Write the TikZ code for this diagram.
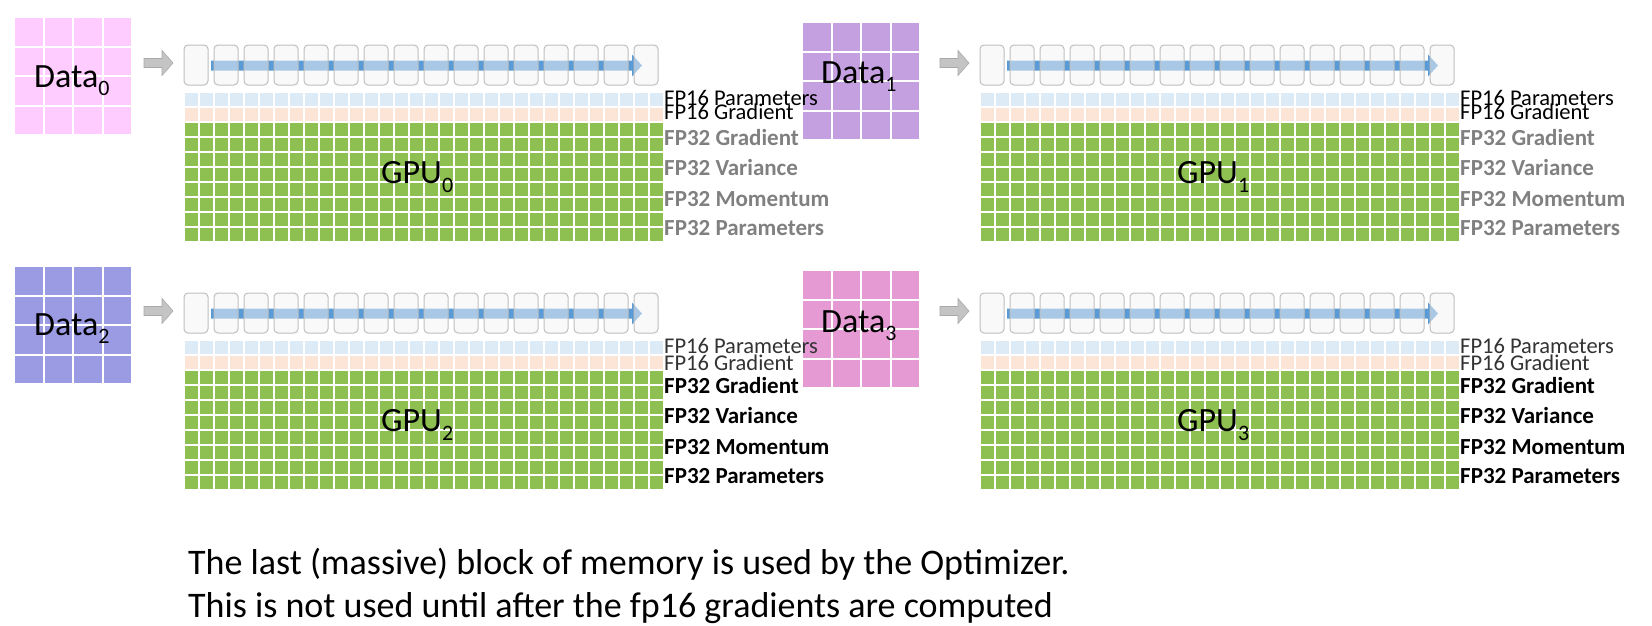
\documentclass[tikz,border=0pt]{standalone}
\usepackage{fontspec}
\setmainfont{Carlito}
\definecolor{boxgrey}{HTML}{BFBFBF}
\definecolor{boxfill}{HTML}{F5F5F5}
\definecolor{arrblue}{HTML}{5B9BD5}
\definecolor{arrgrey}{HTML}{C4C4C4}
\definecolor{arrgreydark}{HTML}{A8A8A8}
\definecolor{fpblue}{HTML}{DDEBF7}
\definecolor{fppeach}{HTML}{FCE4D6}
\definecolor{fpgreen}{HTML}{8DC050}
\definecolor{dataA}{HTML}{FFCCFF}
\definecolor{dataB}{HTML}{C5A0E0}
\definecolor{dataC}{HTML}{9B9BE3}
\definecolor{dataD}{HTML}{E69AD4}
\definecolor{greylabel}{HTML}{808080}
\newcommand\fsixteen{\fontsize{22.5}{24}\selectfont}
\newcommand\fthirtytwo{\fontsize{23}{25}\selectfont\bfseries}
\newcommand\fbig{\fontsize{34}{36}\selectfont}
\newcommand\fsubs{\fontsize{22}{22}\selectfont}
\tikzset{
  membox/.style={draw=boxgrey, line width=1pt, fill=boxfill, fill opacity=0.5, rounded corners=4pt},
  lbl/.style={anchor=base west, inner sep=0pt},
  greyarrow/.style={fill=arrgrey, draw=arrgreydark, line width=0.6pt},
  bluearrow/.style={fill=arrblue},
}
% #1 x, #2 y, #3 colour, #4 name, #5 text x, #6 text baseline, #7 index
\newcommand\datablock[7]{%
  \node[inner sep=0pt, minimum width=117, minimum height=117, anchor=north west] (#4) at (#1,#2) {};
  \foreach \r in {0,...,3}{\foreach \c in {0,...,3}{%
    \fill[#3] (#1+29.6*\c,#2+29.6*\r) rectangle ++(27.6,27.6);}}
  \node[lbl, font=\fbig] (#4t) at (#5,#6) {Data\raisebox{-8pt}{\fsubs #7}};
}
% #1 ox, #2 oy, #3 idx, #4 fp16 colour, #5 fp32 colour, #6 fp16 gradient baseline
\newcommand\drawgpu[6]{%
  \fill[greyarrow] (#1+144,#2+58.5) -- (#1+162,#2+58.5) -- (#1+162,#2+50.5) -- (#1+173,#2+63)
     -- (#1+162,#2+75.5) -- (#1+162,#2+67.5) -- (#1+144,#2+67.5) -- cycle;
  \fill[bluearrow] (#1+211,#2+60.5) -- (#1+632,#2+60.5) -- (#1+632,#2+54.5) -- (#1+642,#2+65.5)
     -- (#1+632,#2+76.5) -- (#1+632,#2+70.5) -- (#1+211,#2+70.5) -- cycle;
  \foreach \i in {0,...,15}{\draw[membox] (#1+184+30*\i,#2+45) rectangle ++(24,40);}
  \foreach \j in {0,...,31}{%
    \fill[fpblue] (#1+185+15*\j,#2+93) rectangle ++(13.3,13);
    \fill[fppeach] (#1+185+15*\j,#2+108) rectangle ++(13.3,13);
    \foreach \k in {0,...,7}{\fill[fpgreen] (#1+185+15*\j,#2+123+15*\k) rectangle ++(13.3,13.3);}
  }
  \node[lbl, font=\fbig] (g#3n) at (#1+381,#2+183) {GPU\raisebox{-9pt}{\fsubs #3}};
  \node[lbl, font=\fsixteen, text=#4] (g#3p16) at (#1+664,#2+105) {FP16 Parameters};
  \node[lbl, font=\fsixteen, text=#4] (g#3g16) at (#1+664,#2+#6) {FP16 Gradient};
  \node[lbl, font=\fthirtytwo, text=#5] (g#3g32) at (#1+664,#2+145) {FP32 Gradient};
  \node[lbl, font=\fthirtytwo, text=#5] (g#3v32) at (#1+664,#2+175) {FP32 Variance};
  \node[lbl, font=\fthirtytwo, text=#5] (g#3m32) at (#1+664,#2+206.5) {FP32 Momentum};
  \node[lbl, font=\fthirtytwo, text=#5] (g#3p32) at (#1+664,#2+235) {FP32 Parameters};
}
\begin{document}
\begin{tikzpicture}[x=1pt,y=-1pt]
\useasboundingbox (0,0) rectangle (1652,625);
\fill[white] (0,0) rectangle (1652,625);
\datablock{15}{18}{dataA}{d0}{34}{87}{0}
\datablock{803}{23}{dataB}{d1}{821}{83}{1}
\datablock{15}{267}{dataC}{d2}{34}{335}{2}
\datablock{803}{271}{dataD}{d3}{821}{332}{3}
\drawgpu{0}{0}{0}{black}{greylabel}{119}
\drawgpu{796}{0}{1}{black}{greylabel}{119}
\drawgpu{0}{248}{2}{black!80}{black}{122.5}
\drawgpu{796}{248}{3}{black!80}{black}{122.5}
\node[lbl, font=\fontsize{36}{43}\selectfont] (note1) at (188,574) {The last (massive) block of memory is used by the Optimizer.};
\node[lbl, font=\fontsize{36}{43}\selectfont] (note2) at (188,617) {This is not used until after the fp16 gradients are computed};
\end{tikzpicture}
\end{document}
